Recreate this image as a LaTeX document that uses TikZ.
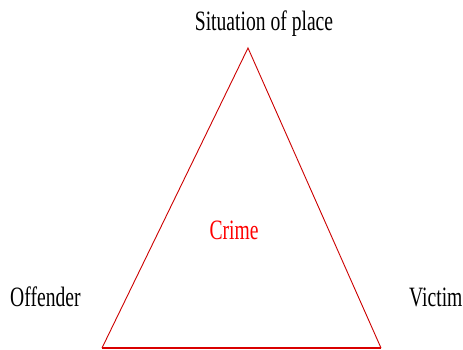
\documentclass[tikz,border=0pt]{standalone}
\usepackage{fontspec}
\setmainfont{Liberation Serif}
\newfontfamily\narrowserif[FakeStretch=0.7]{Liberation Serif}
\usetikzlibrary{positioning}

\begin{document}
\begin{tikzpicture}[
    x=1pt, y=1pt,
    label text/.style={font=\narrowserif\fontsize{28}{30}\selectfont, inner sep=0pt, anchor=base},
    side/.style={draw=red!80!black, line width=0.9pt},
    base side/.style={draw=red!85!black, line width=1.8pt}
]
    \useasboundingbox (0,0) rectangle (463,350);

    % corners of the triangle
    \coordinate (top) at (248,302);
    \coordinate (left) at (102,2);
    \coordinate (right) at (381,2);

    \draw[side] (left) -- (top) -- (right);
    \draw[base side] (left) -- (right);

    \node[label text] (place) at (264,319) {Situation of place};
    \node[label text, anchor=base west] (offender) at (10,43) {Offender};
    \node[label text, anchor=base west] (victim) at (409,43) {Victim};
    \node[label text, text=red] (crime) at (234,110) {Crime};
\end{tikzpicture}
\end{document}
